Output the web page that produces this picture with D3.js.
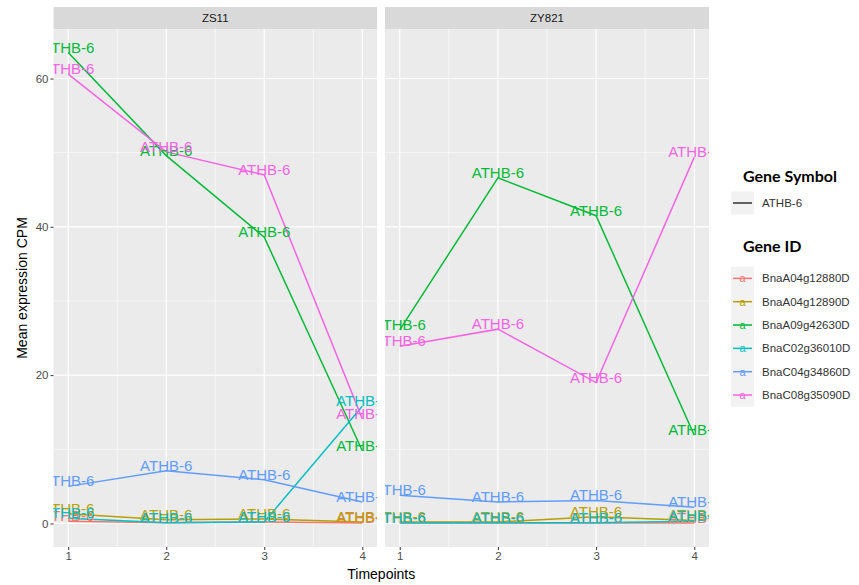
<!DOCTYPE html>
<html><head><meta charset="utf-8">
<script src="https://cdn.jsdelivr.net/npm/d3@7"></script>
<style>body{margin:0;background:#fff}svg{display:block}</style>
</head><body><svg id="c" width="859" height="585"></svg>
<script>
const timepoints = [1, 2, 3, 4];
const cultivars = ["ZS11", "ZY821"];
const geneIds = ["BnaA04g12880D","BnaA04g12890D","BnaA09g42630D","BnaC02g36010D","BnaC04g34860D","BnaC08g35090D"];
const geneColors = ["#F8766D","#B79F00","#00BA38","#00BFC4","#619CFF","#F564E3"];
const geneSymbol = "ATHB-6";
// mean CPM per gene, ZS11 panel
const zs11Values = [
  [0.3, 0.1, 0.2, 0.05],
  [1.3, 0.5, 0.6, 0.2],
  [63.5, 49.6, 38.6, 9.8],
  [0.7, 0.1, 0.2, 15.8],
  [5.0, 7.1, 5.9, 2.9],
  [60.6, 50.1, 47.0, 14.1]
];
// mean CPM per gene, ZY821 panel
const zy821Values = [
  [0.05, 0.05, 0.05, 0.05],
  [0.2, 0.2, 0.9, 0.4],
  [26.1, 46.6, 41.5, 11.9],
  [0.1, 0.1, 0.1, 0.3],
  [3.8, 2.9, 3.1, 2.2],
  [23.9, 26.2, 19.0, 49.4]
];
const yTicks = [0, 20, 40, 60];
const yMinor = [10, 30, 50];
const xMinor = [1.5, 2.5, 3.5];

(function () {
const panelValues = [zs11Values, zy821Values];
const svg = d3.select("#c");
const FONT = "'Liberation Sans', Arial, sans-serif";

const pTop = 29, pBottom = 547, stripTop = 7;
const panels = [{x0: 53.5, x1: 377}, {x0: 385, x1: 709}];

const allVals = panelValues.flat(2);
const [vmin, vmax] = d3.extent(allVals.concat([0]));
const pad = (vmax - vmin) * 0.05;
const y = d3.scaleLinear().domain([vmin - pad, vmax + pad]).range([pBottom, pTop]);

const defs = svg.append("defs");

panels.forEach((p, pi) => {
  const x = d3.scaleLinear().domain([0.85, 4.15]).range([p.x0, p.x1]);
  svg.append("rect").attr("x", p.x0).attr("y", stripTop).attr("width", p.x1 - p.x0).attr("height", pTop - stripTop).attr("fill", "#D9D9D9");
  svg.append("text").attr("x", (p.x0 + p.x1) / 2).attr("y", (stripTop + pTop) / 2).attr("dy", "0.35em")
    .attr("text-anchor", "middle").attr("font-family", FONT).attr("font-size", 11.5).attr("fill", "#1A1A1A").text(cultivars[pi]);
  svg.append("rect").attr("x", p.x0).attr("y", pTop).attr("width", p.x1 - p.x0).attr("height", pBottom - pTop).attr("fill", "#EBEBEB");
  const g = svg.append("g");
  yMinor.forEach(v => g.append("line").attr("x1", p.x0).attr("x2", p.x1).attr("y1", y(v)).attr("y2", y(v)).attr("stroke", "#fff").attr("stroke-width", 0.6));
  xMinor.forEach(v => g.append("line").attr("y1", pTop).attr("y2", pBottom).attr("x1", x(v)).attr("x2", x(v)).attr("stroke", "#fff").attr("stroke-width", 0.6));
  yTicks.forEach(v => g.append("line").attr("x1", p.x0).attr("x2", p.x1).attr("y1", y(v)).attr("y2", y(v)).attr("stroke", "#fff").attr("stroke-width", 1.2));
  timepoints.forEach(v => g.append("line").attr("y1", pTop).attr("y2", pBottom).attr("x1", x(v)).attr("x2", x(v)).attr("stroke", "#fff").attr("stroke-width", 1.2));

  const xa = svg.append("g").attr("transform", `translate(0,${pBottom})`)
    .call(d3.axisBottom(x).tickValues(timepoints).tickFormat(d3.format("d")).tickSize(3).tickPadding(2));
  xa.select(".domain").remove();
  xa.selectAll(".tick line").attr("stroke", "#333").attr("stroke-width", 1);
  xa.selectAll(".tick text").attr("font-family", FONT).attr("font-size", 11.5).attr("fill", "#4D4D4D");

  const cid = "clip" + pi;
  defs.append("clipPath").attr("id", cid).append("rect").attr("x", p.x0).attr("y", pTop).attr("width", p.x1 - p.x0).attr("height", pBottom - pTop);
  const data = panelValues[pi];
  const line = d3.line().x((d, i) => x(timepoints[i])).y(d => y(d));
  const lg = svg.append("g").attr("clip-path", `url(#${cid})`);
  data.forEach((vals, gi) => {
    lg.append("path").attr("d", line(vals)).attr("fill", "none").attr("stroke", geneColors[gi]).attr("stroke-width", 1.5);
  });
  data.forEach((vals, gi) => {
    vals.forEach((v, i) => {
      lg.append("text").attr("x", x(timepoints[i])).attr("y", y(v)).attr("text-anchor", "middle")
        .attr("font-family", FONT).attr("font-size", 15).attr("fill", geneColors[gi]).text(geneSymbol);
    });
  });
});

const ya = svg.append("g").attr("transform", `translate(${panels[0].x0},0)`)
  .call(d3.axisLeft(y).tickValues(yTicks).tickSize(3).tickPadding(2));
ya.select(".domain").remove();
ya.selectAll(".tick line").attr("stroke", "#333");
ya.selectAll(".tick text").attr("font-family", FONT).attr("font-size", 11.5).attr("fill", "#4D4D4D");

svg.append("text").attr("x", (panels[0].x0 + panels[1].x1) / 2).attr("y", 579).attr("text-anchor", "middle")
  .attr("font-family", FONT).attr("font-size", 14).attr("fill", "#000").text("Timepoints");
svg.append("text").attr("transform", `translate(27,${(pTop + pBottom) / 2}) rotate(-90)`).attr("text-anchor", "middle")
  .attr("font-family", FONT).attr("font-size", 14).attr("fill", "#000").text("Mean expression CPM");

const TFONT = "Lato, 'Open Sans', sans-serif";
svg.append("text").attr("x", 743).attr("y", 182).attr("font-family", TFONT).attr("font-weight", "bold").attr("font-size", 16).attr("fill", "#000").text("Gene Symbol");
svg.append("rect").attr("x", 731).attr("y", 191.5).attr("width", 23).attr("height", 23).attr("fill", "#F2F2F2");
svg.append("line").attr("x1", 733).attr("x2", 752).attr("y1", 203).attr("y2", 203).attr("stroke", "#333").attr("stroke-width", 1.5);
svg.append("text").attr("x", 762).attr("y", 203).attr("dy", "0.35em").attr("font-family", FONT).attr("font-size", 11.5).attr("fill", "#333").text(geneSymbol);

svg.append("text").attr("x", 743).attr("y", 252).attr("font-family", TFONT).attr("font-weight", "bold").attr("font-size", 16).attr("fill", "#000").text("Gene ID");
const ky = d3.scaleBand().domain(geneIds).range([266.7, 406.7]);
svg.append("rect").attr("x", 731).attr("y", 266.7).attr("width", 23).attr("height", 140).attr("fill", "#F2F2F2");
geneIds.forEach((gid, i) => {
  const cy = ky(gid) + ky.bandwidth() / 2;
  svg.append("line").attr("x1", 733).attr("x2", 752).attr("y1", cy).attr("y2", cy).attr("stroke", geneColors[i]).attr("stroke-width", 1.5);
  svg.append("text").attr("x", 742.5).attr("y", cy).attr("dy", "0.35em").attr("text-anchor", "middle").attr("font-family", FONT).attr("font-size", 11).attr("fill", geneColors[i]).text("a");
  svg.append("text").attr("x", 762).attr("y", cy).attr("dy", "0.35em").attr("font-family", FONT).attr("font-size", 11.5).attr("fill", "#333").text(gid);
});
})();
</script></body></html>
